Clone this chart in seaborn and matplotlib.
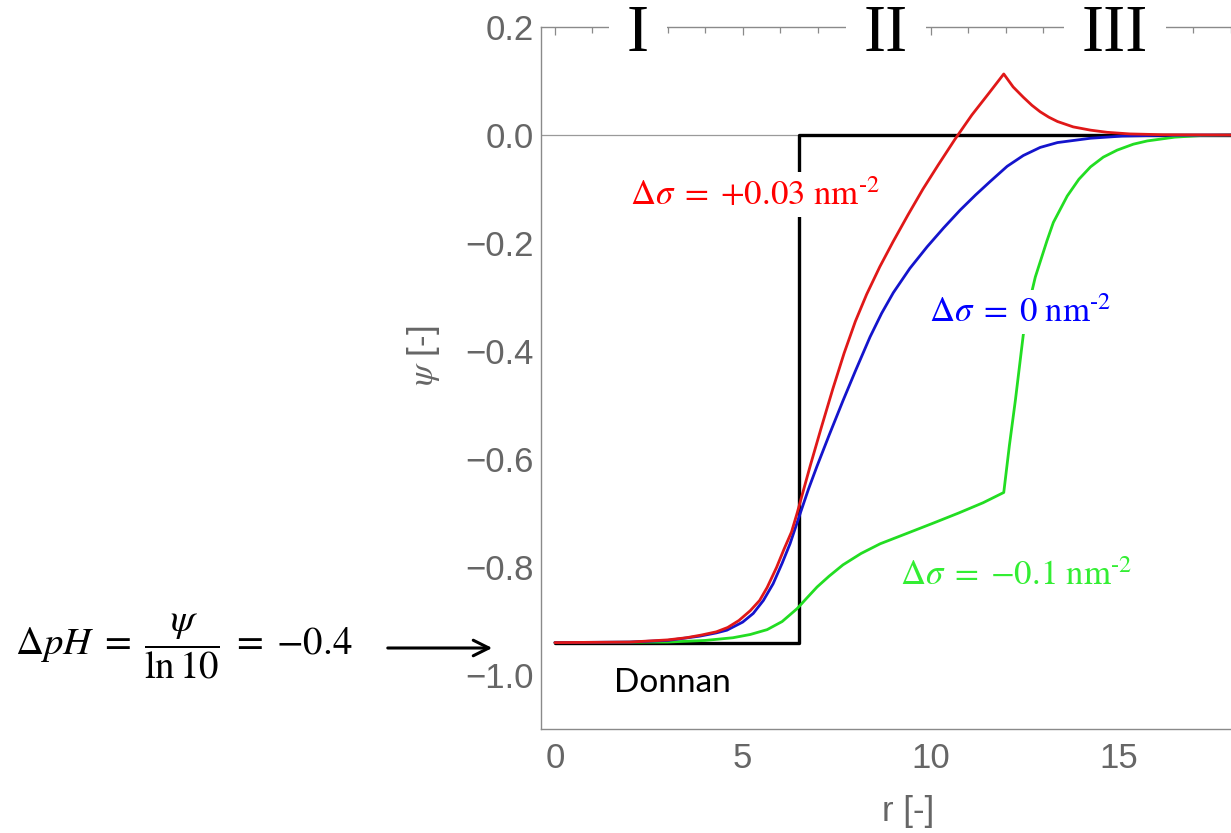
import numpy as np
import matplotlib
matplotlib.use("Agg")
import matplotlib.pyplot as plt
from matplotlib.ticker import MultipleLocator, FixedLocator
import pandas as pd
import seaborn as sns

# potential profiles
r_red = [0, 2, 3, 3.5, 3.9, 4.3, 4.6, 4.9, 5.2, 5.45, 5.65, 5.9, 6.1, 6.3, 6.45, 6.8,
         7.1, 7.4, 7.7, 8.0, 8.3, 8.65, 9.0, 9.4, 9.8, 10.2, 10.65, 11.1, 11.55,
         11.95, 12.2, 12.47, 12.7, 12.92, 13.15, 13.38, 13.8, 14.26, 14.7, 15.3,
         16.2, 18]
psi_red = [-0.94, -0.939, -0.935, -0.931, -0.926, -0.92, -0.912, -0.899, -0.881,
           -0.862, -0.838, -0.801, -0.767, -0.735, -0.70, -0.612, -0.54, -0.47,
           -0.404, -0.345, -0.295, -0.244, -0.198, -0.148, -0.1, -0.056, -0.008,
           0.037, 0.077, 0.113, 0.089, 0.07, 0.055, 0.043, 0.033, 0.025, 0.015,
           0.009, 0.005, 0.002, 0.0005, 0.0]

r_blue = [0, 2, 3, 3.86, 4.3, 4.58, 5.0, 5.28, 5.55, 5.81, 6.05, 6.26, 6.53, 6.75,
          6.98, 7.3, 7.67, 8.0, 8.39, 8.7, 9.01, 9.45, 9.91, 10.35, 10.79, 11.2,
          11.59, 12.04, 12.47, 12.92, 13.38, 14.26, 15.1, 16.2, 18]
psi_blue = [-0.94, -0.939, -0.936, -0.928, -0.922, -0.917, -0.902, -0.886, -0.862,
            -0.831, -0.793, -0.757, -0.701, -0.656, -0.613, -0.556, -0.492, -0.437,
            -0.374, -0.33, -0.292, -0.247, -0.207, -0.172, -0.139, -0.111, -0.086,
            -0.058, -0.038, -0.023, -0.014, -0.006, -0.002, -0.0005, 0.0]

r_green = [0, 3, 4, 4.74, 5.2, 5.65, 6.05, 6.45, 6.7, 6.98, 7.3, 7.67, 8.15, 8.66,
           9.4, 10.1, 10.75, 11.4, 11.95, 12.1, 12.26, 12.47, 12.63, 12.79, 13.1,
           13.27, 13.64, 13.95, 14.26, 14.6, 14.97, 15.4, 15.77, 16.5, 17.2, 18]
psi_green = [-0.94, -0.939, -0.936, -0.931, -0.925, -0.916, -0.901, -0.877, -0.858,
             -0.837, -0.817, -0.796, -0.775, -0.757, -0.737, -0.718, -0.70, -0.681,
             -0.662, -0.575, -0.491, -0.37, -0.31, -0.263, -0.196, -0.162, -0.113,
             -0.082, -0.059, -0.041, -0.028, -0.017, -0.011, -0.004, -0.001, 0.0]

r_donnan = [0, 6.5, 6.5, 18]
psi_donnan = [-0.94, -0.94, 0.0, 0.0]

x_ticks = [0, 5, 10, 15]
y_ticks = [0.2, 0.0, -0.2, -0.4, -0.6, -0.8, -1.0]
regions = ["I", "II", "III"]
region_r = [2.21, 8.82, 14.92]

sns.set_style("white")
plt.rcParams["mathtext.fontset"] = "stix"
plt.rcParams["font.family"] = ["Liberation Sans", "DejaVu Sans"]

fig = plt.figure(figsize=(12.31, 8.33), dpi=100)
ax = fig.add_axes([541 / 1231, 1 - 729 / 833, 690 / 1231, 702 / 833])

ax.axhline(0, color="#9a9a9a", lw=0.9, zorder=1)
sns.lineplot(x=r_donnan, y=psi_donnan, color="black", lw=2.4, estimator=None,
             sort=False, ax=ax, zorder=2)
for r, psi, c in [(r_green, psi_green, "#22dd22"), (r_blue, psi_blue, "#1414cc"),
                  (r_red, psi_red, "#e01818")]:
    sns.lineplot(x=r, y=psi, color=c, lw=2.0, estimator=None, sort=False, ax=ax, zorder=3)

ax.set_xlim(-0.37, 18.0)
ax.set_ylim(-1.1, 0.2)
ax.xaxis.set_major_locator(FixedLocator(x_ticks))
ax.xaxis.set_minor_locator(MultipleLocator(1))
ax.yaxis.set_major_locator(FixedLocator(y_ticks))
ax.yaxis.set_minor_locator(MultipleLocator(0.05))
ax.set_yticklabels([f"{v:.1f}".replace("-", "\u2212") for v in y_ticks])
ax.set_xticklabels([str(v) for v in x_ticks])

grey = "#8a8a8a"
for s in ["left", "bottom", "top"]:
    ax.spines[s].set_color(grey)
    ax.spines[s].set_linewidth(1.0)
ax.spines["right"].set_visible(False)
ax.tick_params(which="both", direction="in", top=True, right=False, color=grey,
               labelcolor="#666666", labelsize=25, width=0.9)
ax.tick_params(which="major", length=6)
ax.tick_params(which="minor", length=4)
ax.tick_params(axis="x", pad=9)
ax.tick_params(axis="y", pad=5)

ax.set_xlabel("r [-]", fontsize=25, color="#666666")
ax.set_ylabel(r"$\psi$ [-]", fontsize=25, color="#666666")
ax.xaxis.set_label_coords(0.532, -0.094)
ax.yaxis.set_label_coords(-0.1435, 0.531)

box = dict(facecolor="white", edgecolor="none", pad=4)
for name, xr in zip(regions, region_r):
    ax.text(xr, 0.187, name, family="Liberation Serif", fontsize=48, color="black",
            ha="center", va="center", zorder=5,
            bbox=dict(facecolor="white", edgecolor="none", pad=13))

ax.text(5.33, -0.111, r"$\Delta\sigma\;=\;{+}0.03\ \mathrm{nm}^{\text{-}2}$", color="red",
        fontsize=25, ha="center", va="center", zorder=5, bbox=box)
ax.text(12.39, -0.328, r"$\Delta\sigma\;=\;0\ \mathrm{nm}^{\text{-}2}$", color="blue",
        fontsize=25, ha="center", va="center", zorder=5, bbox=box)
ax.text(12.28, -0.815, r"$\Delta\sigma\;=\;{-}0.1\ \mathrm{nm}^{\text{-}2}$", color="#33ee33",
        fontsize=25, ha="center", va="center", zorder=5, bbox=box)
ax.text(3.14, -1.015, "Donnan", family=["Lato", "DejaVu Sans"], fontsize=24,
        color="black", ha="center", va="center")

fig.text(0.012, 1 - 646 / 833, r"$\Delta pH\;=\;\dfrac{\psi}{\ln 10}\;=\;{-}0.4$",
         fontsize=28, color="black", ha="left", va="center")
ax.annotate("", xy=(495 / 1231, 1 - 648 / 833), xytext=(385 / 1231, 1 - 648 / 833),
            xycoords="figure fraction", textcoords="figure fraction",
            arrowprops=dict(arrowstyle="->", lw=2.2, color="black", mutation_scale=28))

fig.savefig("out.png", dpi=100)
